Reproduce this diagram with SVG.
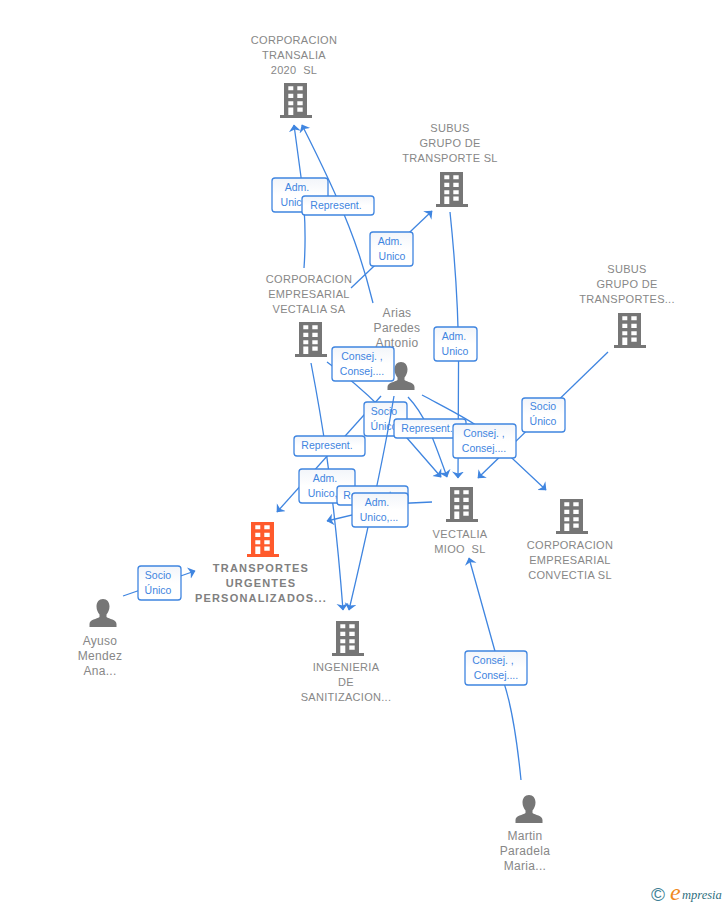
<svg xmlns="http://www.w3.org/2000/svg" width="728" height="905" viewBox="0 0 728 905">
<style>
.n{font:11px "Liberation Sans",Arial,sans-serif;fill:#878787;text-anchor:middle;letter-spacing:.3px;white-space:pre}
.p{font:12px "Liberation Sans",Arial,sans-serif;fill:#878787;text-anchor:middle;letter-spacing:.3px}
.m{font:bold 11px "Liberation Sans",Arial,sans-serif;fill:#808080;text-anchor:middle;letter-spacing:1.2px}
.b{font:10.5px "Liberation Sans",Arial,sans-serif;fill:#3f85e0;text-anchor:middle}
.c{fill:none;stroke:#3f85e0;stroke-width:1.3;marker-end:url(#a)}
.r{fill:url(#g);stroke:#3f85e0;stroke-width:1.3}
</style>
<defs>
<linearGradient id="g" x1="0" y1="0" x2="0" y2="1"><stop offset="0" stop-color="#f2f5fa"/><stop offset=".5" stop-color="#fff"/><stop offset="1" stop-color="#fff"/></linearGradient>
<marker id="a" markerUnits="userSpaceOnUse" markerWidth="14" markerHeight="14" refX="6.500" refY="6" orient="auto"><path d="M0,0 L7,6 L0,12 L2,6Z" fill="#3f85e0"/></marker>
<symbol id="bld" width="32" height="35" viewBox="0 0 32 35" overflow="visible">
<path fill-rule="evenodd" d="M4,0H27V32H32V35H0V32H4ZM8.300,3.300V7.300H13.300V3.300ZM17.300,3.300V7.300H22.700V3.300ZM8.300,10.700V15H13.300V10.700ZM17.300,10.700V15H22.700V10.700ZM8.300,18.300V22.300H13.300V18.300ZM17.300,18.300V22.300H22.700V18.300ZM8.300,24.500V32H13.300V24.500ZM17.300,24.500V28.800H22.700V24.500Z"/>
</symbol>
<symbol id="per" width="28" height="28" viewBox="0 0 28 28">
<path d="M14,0C18,0 20.500,3 20.500,7.500C20.500,11 19,13.500 17.500,15.500V18C20,20 27.500,20.500 27.500,25V28H.5V25C.5,20.500 8,20 10.500,18V15.500C9,13.500 7.500,11 7.500,7.500C7.500,3 10,0 14,0Z" fill="#767676"/>
</symbol>
</defs>
<g id="connectors">
<path class="c" d="M304,268C306,240 306,215 301,177L294,125"/>
<path class="c" d="M351,288L432,211"/>
<path class="c" d="M450,212C456,270 459,320 458.500,370L458,478"/>
<path class="c" d="M608,352L478,478"/>
<path class="c" d="M422,395C450,410 470,420 480,428L546,490"/>
<path class="c" d="M408,397C425,415 432,435 447,477"/>
<path class="c" d="M327,362C345,375 365,392 380,407L441,477"/>
<path class="c" d="M381,396L277,512"/>
<path class="c" d="M311,363C320,410 333,480 343,610"/>
<path class="c" d="M432,502L400,503.500L327,521"/>
<path class="c" d="M123,596L195,571"/>
<path class="c" d="M521,780C517,740 510,700 503,680L469,558"/>
</g>
<g id="n1"><text class="n"><tspan x="294" y="44">CORPORACION</tspan><tspan x="294" y="59">TRANSALIA</tspan><tspan x="294" y="74">2020  SL</tspan></text><use href="#bld" x="280" y="83" fill="#767676"/></g>
<g id="n2"><text class="n"><tspan x="450" y="132">SUBUS</tspan><tspan x="450" y="147">GRUPO DE</tspan><tspan x="450" y="162">TRANSPORTE SL</tspan></text><use href="#bld" x="436" y="172" fill="#767676"/></g>
<g id="n3"><text class="n"><tspan x="309" y="283">CORPORACION</tspan><tspan x="309" y="298">EMPRESARIAL</tspan><tspan x="309" y="313">VECTALIA SA</tspan></text><use href="#bld" x="295" y="322" fill="#767676"/></g>
<g id="n4"><text class="n"><tspan x="627" y="273">SUBUS</tspan><tspan x="627" y="288">GRUPO DE</tspan><tspan x="627" y="303">TRANSPORTES...</tspan></text><use href="#bld" x="614" y="313" fill="#767676"/></g>
<g id="n5"><text class="p"><tspan x="397" y="317">Arias</tspan><tspan x="397" y="332">Paredes</tspan><tspan x="397" y="347">Antonio</tspan></text><use href="#per" x="387" y="362"/></g>
<g id="n6"><use href="#bld" x="446" y="487" fill="#767676"/><text class="n"><tspan x="460" y="538">VECTALIA</tspan><tspan x="460" y="553">MIOO  SL</tspan></text></g>
<g id="n7"><use href="#bld" x="556" y="499" fill="#767676"/><text class="n"><tspan x="570" y="549">CORPORACION</tspan><tspan x="570" y="564">EMPRESARIAL</tspan><tspan x="570" y="579">CONVECTIA SL</tspan></text></g>
<g id="n8"><use href="#bld" x="247" y="522" fill="#ff5a2c"/><text class="m"><tspan x="261" y="572">TRANSPORTES</tspan><tspan x="261" y="587">URGENTES</tspan><tspan x="261" y="602">PERSONALIZADOS...</tspan></text></g>
<g id="n9"><use href="#bld" x="332" y="621" fill="#767676"/><text class="n"><tspan x="346" y="671">INGENIERIA</tspan><tspan x="346" y="686">DE</tspan><tspan x="346" y="701">SANITIZACION...</tspan></text></g>
<g id="n10"><use href="#per" x="89" y="599"/><text class="p"><tspan x="100" y="645">Ayuso</tspan><tspan x="100" y="660">Mendez</tspan><tspan x="100" y="675">Ana...</tspan></text></g>
<g id="n11"><use href="#per" x="515" y="795"/><text class="p"><tspan x="525" y="840">Martin</tspan><tspan x="525" y="855">Paradela</tspan><tspan x="525" y="870">Maria...</tspan></text></g>
<g id="labels-under">
<g><rect class="r" x="272" y="178" width="56" height="34" rx="3"/><text class="b"><tspan x="297" y="191">Adm.</tspan><tspan x="294" y="206">Unico</tspan></text></g>
<g><rect class="r" x="364" y="402" width="43" height="34" rx="3"/><text class="b"><tspan x="384" y="415">Socio</tspan><tspan x="384" y="430">Único</tspan></text></g>
</g>
<g id="connectors-over">
<path class="c" d="M373,303C360,250 345,210 302,125"/>
<path class="c" d="M394,396C385,450 375,500 349,610"/>
</g>
<g id="labels">
<g><rect class="r" x="302" y="196" width="72" height="19" rx="3"/><text class="b" x="336" y="209">Represent.</text></g>
<g><rect class="r" x="370" y="232" width="43" height="34" rx="3"/><text class="b"><tspan x="390" y="245">Adm.</tspan><tspan x="392" y="260">Unico</tspan></text></g>
<g><rect class="r" x="434" y="327" width="43" height="34" rx="3"/><text class="b"><tspan x="454" y="340">Adm.</tspan><tspan x="455" y="355">Unico</tspan></text></g>
<g><rect class="r" x="332" y="347" width="62" height="34" rx="3"/><text class="b"><tspan x="362" y="360">Consej. ,</tspan><tspan x="362" y="375">Consej....</tspan></text></g>
<g><rect class="r" x="522" y="398" width="43" height="34" rx="3"/><text class="b"><tspan x="543" y="410">Socio</tspan><tspan x="543" y="425">Único</tspan></text></g>
<g><rect class="r" x="394" y="419" width="72" height="19" rx="3"/><text class="b" x="427" y="432">Represent.</text></g>
<g><rect class="r" x="453" y="424" width="63" height="34" rx="3"/><text class="b"><tspan x="484" y="437">Consej. ,</tspan><tspan x="484" y="452">Consej....</tspan></text></g>
<g><rect class="r" x="294" y="436" width="71" height="20" rx="3"/><text class="b" x="327" y="449">Represent.</text></g>
<g><rect class="r" x="299" y="469" width="56" height="34" rx="3"/><text class="b"><tspan x="325" y="482">Adm.</tspan><tspan x="327" y="497">Unico,...</tspan></text></g>
<g><rect class="r" x="337" y="486" width="71" height="19" rx="3"/><text class="b" x="369" y="499">Represent.</text></g>
<g><rect class="r" x="352" y="493" width="56" height="34" rx="3"/><text class="b"><tspan x="377" y="506">Adm.</tspan><tspan x="379" y="521">Unico,...</tspan></text></g>
<g><rect class="r" x="138" y="566" width="43" height="34" rx="3"/><text class="b"><tspan x="158" y="579">Socio</tspan><tspan x="158" y="594">Único</tspan></text></g>
<g><rect class="r" x="465" y="651" width="62" height="34" rx="3"/><text class="b"><tspan x="493" y="664">Consej. ,</tspan><tspan x="496" y="679">Consej....</tspan></text></g>
</g>
<g id="logo"><text x="658" y="900.500" font-family="Liberation Sans,sans-serif" font-size="19" fill="#3d7f96" text-anchor="middle">©</text><text x="670" y="900" font-family="Liberation Serif,serif" font-style="italic" font-size="24" fill="#f08a1d">e</text><text x="682" y="899" font-family="Liberation Serif,serif" font-style="italic" font-size="12.500" fill="#2f6f80">mpresia</text></g>
</svg>
